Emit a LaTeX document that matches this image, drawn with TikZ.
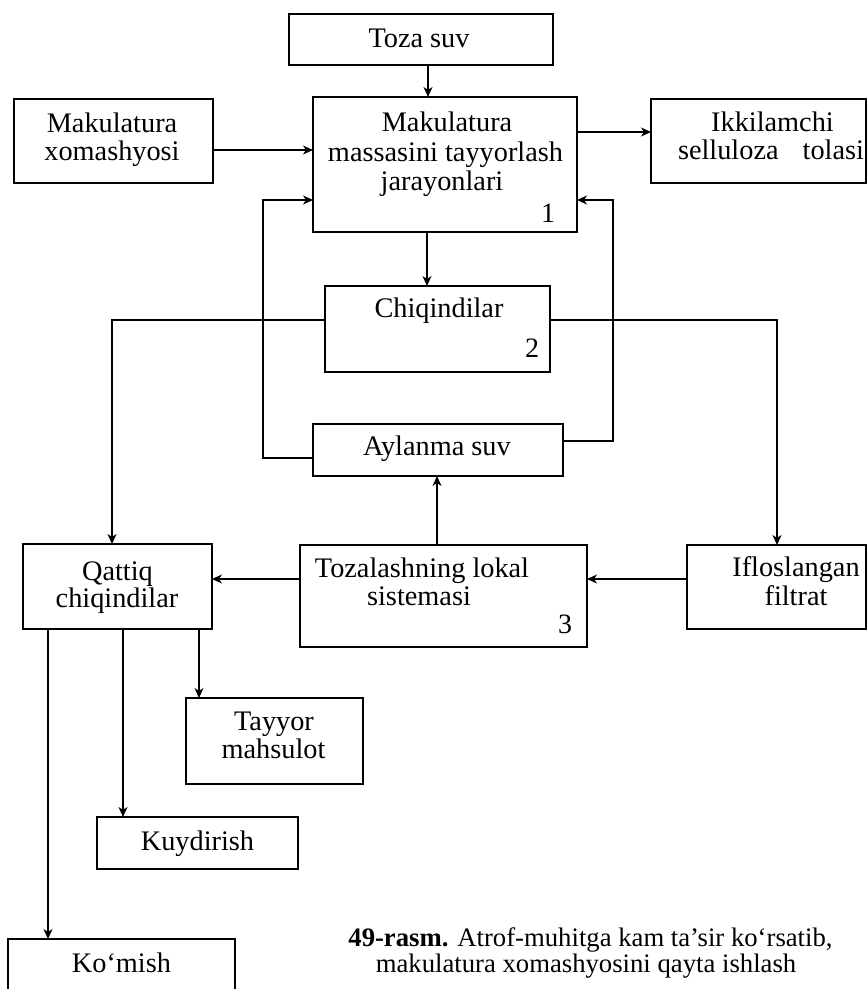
\documentclass[tikz,border=0pt]{standalone}
\usepackage{fontspec}
\setmainfont{Liberation Serif}
\usetikzlibrary{arrows.meta}
\begin{document}
\begin{tikzpicture}[x=1pt,y=-1pt,
  box/.style={draw,line width=1.3pt,inner sep=0pt,outer sep=0pt},
  lbl/.style={inner sep=0pt,anchor=base,font=\fontsize{28.3}{28.3}\selectfont},
  num/.style={inner sep=0pt,anchor=base,font=\fontsize{28}{28}\selectfont},
  captxt/.style={inner sep=0pt,anchor=base,font=\fontsize{26.7}{26.7}\selectfont},
  con/.style={line width=1.3pt},
  arr/.style={con,-{Stealth[length=10pt,width=9pt,inset=3pt]}}]
\useasboundingbox (0,0) rectangle (868,989);
\clip (0,0) rectangle (868,989);
% boxes
\node[box,minimum width=264pt,minimum height=51pt] (toza) at (421,39.5) {};
\node[box,minimum width=199pt,minimum height=84pt] (makx) at (113.5,141) {};
\node[box,minimum width=264pt,minimum height=135pt] (main) at (445,164.5) {};
\node[box,minimum width=215pt,minimum height=84pt] (ikki) at (758.5,141) {};
\node[box,minimum width=225pt,minimum height=86pt] (chiq) at (437.5,329) {};
\node[box,minimum width=250pt,minimum height=52pt] (ayl) at (438,450) {};
\node[box,minimum width=189pt,minimum height=85pt] (qat) at (117.5,586.5) {};
\node[box,minimum width=287pt,minimum height=102pt] (toz) at (443.5,596) {};
\node[box,minimum width=179pt,minimum height=84pt] (ifl) at (776.5,587) {};
\node[box,minimum width=177pt,minimum height=86pt] (tay) at (274.5,741) {};
\node[box,minimum width=201pt,minimum height=52pt] (kuy) at (197.5,843) {};
\node[box,minimum width=227pt,minimum height=70pt] (kom) at (121.5,974) {};
% texts
\node[lbl] (toza-t) at (419,47) {Toza suv};
\node[lbl] (makx-t1) at (112,132) {Makulatura};
\node[lbl] (makx-t2) at (112,160) {xomashyosi};
\node[lbl] (main-t1) at (447,131) {Makulatura};
\node[lbl] (main-t2) at (445.5,161) {massasini tayyorlash};
\node[lbl] (main-t3) at (442,190) {jarayonlari};
\node[num] (main-n) at (548,222) {1};
\node[lbl] (ikki-t1) at (772.5,131) {Ikkilamchi};
\node[lbl] (ikki-t2) at (771,159) {selluloza\hspace{0.6em} tolasi};
\node[lbl] (chiq-t) at (439,317) {Chiqindilar};
\node[num] (chiq-n) at (532,357) {2};
\node[lbl] (ayl-t) at (437,455) {Aylanma suv};
\node[lbl] (toz-t1) at (422,577) {Tozalashning lokal};
\node[lbl] (toz-t2) at (419,605) {sistemasi};
\node[num] (toz-n) at (565,633) {3};
\node[lbl] (qat-t1) at (117.5,580) {Qattiq};
\node[lbl] (qat-t2) at (117,607) {chiqindilar};
\node[lbl] (ifl-t1) at (796,576) {Ifloslangan};
\node[lbl] (ifl-t2) at (796,605) {filtrat};
\node[lbl] (tay-t1) at (274,730) {Tayyor};
\node[lbl] (tay-t2) at (273.5,758) {mahsulot};
\node[lbl] (kuy-t) at (197.5,850) {Kuydirish};
\node[lbl] (kom-t) at (121.5,972) {Ko‘mish};
\node[captxt] (cap1) at (590.5,946) {\textbf{49-rasm.} Atrof-muhitga kam ta’sir ko‘rsatib,};
\node[captxt] (cap2) at (586,972) {makulatura xomashyosini qayta ishlash};
% helper coordinates
\coordinate (c428) at (428,0);
\coordinate (c427) at (427,0);
\coordinate (c112) at (112,0);
\coordinate (c777) at (777,0);
\coordinate (c263) at (263,0);
\coordinate (c613) at (613,0);
\coordinate (c437) at (437,0);
\coordinate (c48) at (48,0);
\coordinate (c123) at (123,0);
\coordinate (c199) at (199,0);
\coordinate (r150) at (0,150);
\coordinate (r132) at (0,132);
\coordinate (r320) at (0,320);
\coordinate (r458) at (0,458);
\coordinate (r441) at (0,441);
\coordinate (r200) at (0,200);
\coordinate (r579) at (0,579);
% connectors
\draw[arr] (toza.south -| c428) -- (main.north -| c428);
\draw[arr] (makx.east |- r150) -- (main.west |- r150);
\draw[arr] (main.east |- r132) -- (ikki.west |- r132);
\draw[arr] (main.south -| c427) -- (chiq.north -| c427);
\draw[arr] (chiq.west |- r320) -| (qat.north -| c112);
\draw[arr] (chiq.east |- r320) -| (ifl.north -| c777);
\draw[arr] (ayl.west |- r458) -| (c263 |- r200) -- (main.west |- r200);
\draw[arr] (ayl.east |- r441) -| (c613 |- r200) -- (main.east |- r200);
\draw[arr] (toz.north -| c437) -- (ayl.south -| c437);
\draw[arr] (ifl.west |- r579) -- (toz.east |- r579);
\draw[arr] (toz.west |- r579) -- (qat.east |- r579);
\draw[arr] (qat.south -| c48) -- (kom.north -| c48);
\draw[arr] (qat.south -| c123) -- (kuy.north -| c123);
\draw[arr] (qat.south -| c199) -- (tay.north -| c199);
\end{tikzpicture}
\end{document}
